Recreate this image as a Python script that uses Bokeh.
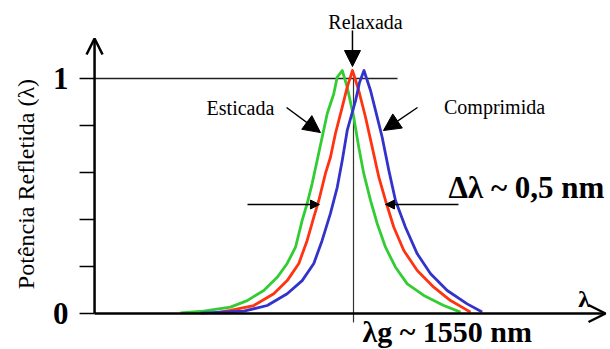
from bokeh.plotting import figure
from bokeh.models import Range1d, Arrow, OpenHead, NormalHead
from bokeh.core.properties import value
from bokeh.embed import file_html
from bokeh.resources import INLINE

# Reflection spectra of the grating (wavelength in nm, normalised reflected power)
esticada_nm = [1548.648, 1548.828, 1549.039, 1549.170, 1549.299, 1549.404, 1549.482, 1549.547,
               1549.599, 1549.638, 1549.677, 1549.716, 1549.755, 1549.795, 1549.846, 1549.873,
               1549.912, 1549.951, 1550.002, 1550.041, 1550.080, 1550.133, 1550.185, 1550.250,
               1550.328, 1550.420, 1550.549, 1550.705, 1550.836]
esticada_pw = [0.003, 0.010, 0.027, 0.055, 0.098, 0.154, 0.213, 0.282,
               0.396, 0.468, 0.553, 0.651, 0.750, 0.851, 0.935, 1.006,
               1.034, 0.963, 0.835, 0.708, 0.596, 0.481, 0.383, 0.282,
               0.197, 0.126, 0.077, 0.034, 0.006]

relaxada_nm = [1548.922, 1549.039, 1549.221, 1549.377, 1549.482, 1549.573, 1549.638, 1549.690,
               1549.729, 1549.781, 1549.820, 1549.859, 1549.912, 1549.951, 1549.992, 1550.041,
               1550.094, 1550.146, 1550.198, 1550.250, 1550.315, 1550.393, 1550.498, 1550.627,
               1550.758, 1550.914]
relaxada_pw = [0.003, 0.013, 0.034, 0.084, 0.140, 0.213, 0.311, 0.410,
               0.481, 0.596, 0.665, 0.766, 0.878, 0.963, 1.034, 0.949,
               0.835, 0.708, 0.580, 0.481, 0.367, 0.268, 0.183, 0.112,
               0.055, 0.006]

comprimida_nm = [1548.805, 1549.143, 1549.326, 1549.482, 1549.599, 1549.690, 1549.755, 1549.820,
                 1549.873, 1549.912, 1549.951, 1550.016, 1550.047, 1550.082, 1550.133, 1550.172,
                 1550.224, 1550.276, 1550.328, 1550.406, 1550.498, 1550.602, 1550.732, 1550.888,
                 1551.005]
comprimida_pw = [0.002, 0.010, 0.034, 0.084, 0.140, 0.213, 0.311, 0.426,
                 0.537, 0.651, 0.779, 0.906, 0.983, 1.034, 0.949, 0.864,
                 0.750, 0.609, 0.481, 0.367, 0.254, 0.169, 0.098, 0.041,
                 0.006]

y_ticks = [0, 0.2, 0.4, 0.6, 0.8, 1.0]
y_tick_labels = ["0", "", "", "", "", "1"]

bragg_nm = 1550.0      # nominal Bragg wavelength
x_origin = 1547.977    # where the two axes cross
x_end = 1551.969       # tip of the wavelength axis
y_top = 1.17           # tip of the power axis

serif = value("Liberation Serif")

p = figure(width=610, height=349, output_backend="svg", toolbar_location=None,
           x_range=Range1d(1547.2422, 1552.0078), y_range=Range1d(-0.15319, 1.33191),
           x_axis_location=None, y_axis_location=None, min_border=0)
p.outline_line_color = None
p.grid.visible = False
p.background_fill_color = "white"

# reference lines: unit level and the Bragg wavelength
p.segment(x0=[x_origin], y0=[1.0], x1=[1550.344], y1=[1.0], line_color="#222222", line_width=1.5)
p.segment(x0=[bragg_nm], y0=[1.004], x1=[bragg_nm], y1=[-0.038], line_color="#333333", line_width=1.2)

# spectra
p.line(esticada_nm, esticada_pw, line_color="#33cc33", line_width=2.8, line_join="round")
p.line(relaxada_nm, relaxada_pw, line_color="#ff3311", line_width=2.8, line_join="round")
p.line(comprimida_nm, comprimida_pw, line_color="#3333cc", line_width=2.8, line_join="round")

# axes drawn as arrows
p.add_layout(Arrow(end=OpenHead(size=16, line_width=2.5, line_color="black"),
                   x_start=x_origin, y_start=0, x_end=x_origin, y_end=y_top,
                   line_width=2.5, line_color="black"))
p.add_layout(Arrow(end=OpenHead(size=17, line_width=2.5, line_color="black"),
                   x_start=x_origin, y_start=0, x_end=x_end, y_end=0,
                   line_width=2.5, line_color="black"))

# power-axis ticks and labels
tick_len = 15 / 128
p.segment(x0=[x_origin - tick_len] * len(y_ticks), y0=y_ticks,
          x1=[x_origin] * len(y_ticks), y1=y_ticks, line_color="black", line_width=1.5)
lab_y = [t for t, s in zip(y_ticks, y_tick_labels) if s]
lab_s = [s for s in y_tick_labels if s]
p.text(x=[x_origin - 26 / 128] * len(lab_y), y=lab_y, text=lab_s, text_font=serif,
       text_font_style="bold", text_font_size="31px", text_align="right",
       text_baseline="middle", text_color="black")

p.text(x=[1547.445], y=[0.551], text=["Potência Refletida (λ)"], angle=1.5707963,
       text_font=serif, text_font_size="24px", text_align="center",
       text_baseline="middle", text_color="black")
p.text(x=[1551.801], y=[0.06], text=["λ"], text_font=serif, text_font_style="bold",
       text_font_size="24px", text_align="center", text_baseline="alphabetic", text_color="black")

# state labels with pointers
p.text(x=[1550.094], y=[1.2415], text=["Relaxada"], text_font=serif, text_font_size="20px",
       text_align="center", text_baseline="alphabetic", text_color="black")
p.add_layout(Arrow(end=NormalHead(size=16, fill_color="black", line_color="black"),
                   x_start=1549.992, y_start=1.204, x_end=1549.992, y_end=1.051,
                   line_width=1.5, line_color="black"))
p.text(x=[1549.117], y=[0.8726], text=["Esticada"], text_font=serif, text_font_size="20px",
       text_align="center", text_baseline="alphabetic", text_color="black")
p.add_layout(Arrow(end=NormalHead(size=17, fill_color="black", line_color="black"),
                   x_start=1549.477, y_start=0.8766, x_end=1549.742, y_end=0.770,
                   line_width=1.5, line_color="black"))
p.text(x=[1551.102], y=[0.8768], text=["Comprimida"], text_font=serif, text_font_size="20px",
       text_align="center", text_baseline="alphabetic", text_color="black")
p.add_layout(Arrow(end=NormalHead(size=17, fill_color="black", line_color="black"),
                   x_start=1550.5, y_start=0.8766, x_end=1550.234, y_end=0.7787,
                   line_width=1.5, line_color="black"))

# bandwidth markers
p.add_layout(Arrow(end=NormalHead(size=9, fill_color="black", line_color="black"),
                   x_start=1549.172, y_start=0.4638, x_end=1549.734, y_end=0.4638,
                   line_width=1.3, line_color="black"))
p.add_layout(Arrow(end=NormalHead(size=9, fill_color="black", line_color="black"),
                   x_start=1550.820, y_start=0.4638, x_end=1550.250, y_end=0.4638,
                   line_width=1.3, line_color="black"))
p.text(x=[1550.742], y=[0.535], text=["Δλ ~ 0,5 nm"], text_font=serif, text_font_style="bold",
       text_font_size="31px", text_align="left", text_baseline="alphabetic", text_color="black")
p.text(x=[1550.070], y=[-0.076], text=["λg ~ 1550 nm"], text_font=serif, text_font_style="bold",
       text_font_size="30px", text_align="left", text_baseline="alphabetic", text_color="black")

open("out.html", "w").write(file_html(p, INLINE))
